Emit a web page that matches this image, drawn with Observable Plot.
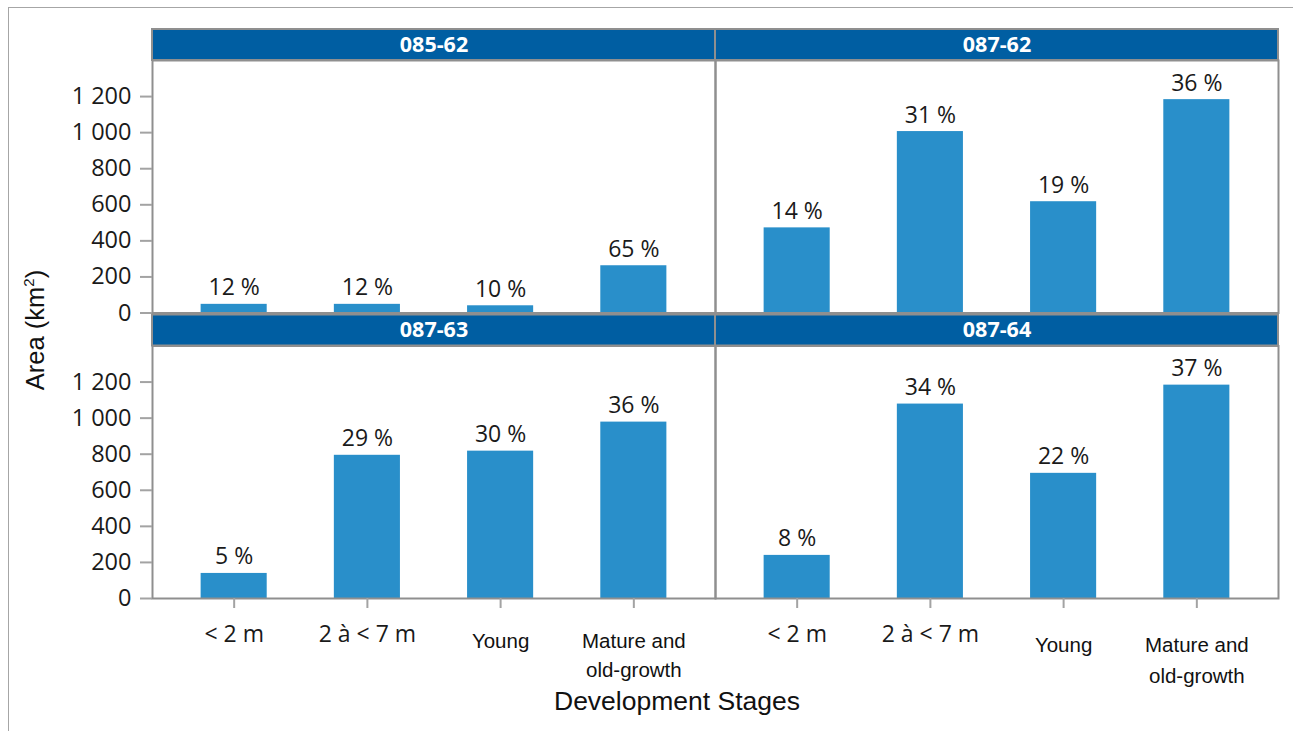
<!DOCTYPE html>
<html>
<head>
<meta charset="utf-8">
<script src="https://cdn.jsdelivr.net/npm/d3@7"></script>
<script src="https://cdn.jsdelivr.net/npm/@observablehq/plot@0.6"></script>
<style>
  html, body { margin: 0; padding: 0; background: #fff; }
  #wrap { position: relative; width: 1293px; height: 731px; overflow: hidden; }
  #border { position: absolute; left: 8px; top: 7px; right: 0; bottom: 0;
            border-top: 1.5px solid #a6a6a6; border-left: 1.5px solid #a6a6a6; pointer-events: none; }
  #chart { position: absolute; left: 0; top: 0; }
  .ttl { position: absolute; font-family: "Liberation Sans", Arial, sans-serif; color: #111; white-space: nowrap; }
  #ytitle { left: 35px; top: 330px; font-size: 25.5px; transform: translate(-50%, -50%) rotate(-90deg); }
  #ytitle sup { font-size: 15px; vertical-align: 0; position: relative; top: -10px; }
  #xtitle { left: 677px; top: 701px; font-size: 26.5px; transform: translate(-50%, -50%); }
</style>
</head>
<body>
<div id="wrap">
  <div id="chart"></div>
  <div id="border"></div>
  <div class="ttl" id="ytitle">Area (km<sup>2</sup>)</div>
  <div class="ttl" id="xtitle">Development Stages</div>
</div>
<script>
// ---- data ----
const panels = ["085-62", "087-62", "087-63", "087-64"];
const panelCol = ["left", "right", "left", "right"];
const panelRow = ["top", "top", "bottom", "bottom"];
const stages = ["< 2 m", "2 à < 7 m", "Young", "Mature and old-growth"];
const stageLabels = ["< 2 m", "2 à < 7 m", "Young", "Mature and\nold-growth"];
const area_085_62 = [48, 48, 40, 262];
const area_087_62 = [472, 1006, 617, 1183];
const area_087_63 = [139, 794, 817, 978];
const area_087_64 = [239, 1078, 694, 1183];
const pct_085_62 = [12, 12, 10, 65];
const pct_087_62 = [14, 31, 19, 36];
const pct_087_63 = [5, 29, 30, 36];
const pct_087_64 = [8, 34, 22, 37];
const yTicks = [0, 200, 400, 600, 800, 1000, 1200];
const yMax = 1400;

const areas = [area_085_62, area_087_62, area_087_63, area_087_64];
const pcts = [pct_085_62, pct_087_62, pct_087_63, pct_087_64];

const panelRows = panels.map((name, i) => ({name, col: panelCol[i], row: panelRow[i]}));
const data = [];
panels.forEach((name, i) => stages.forEach((s, j) => data.push({
  panel: name, col: panelCol[i], row: panelRow[i], stage: s, area: areas[i][j], pct: pcts[i][j]
})));

// x tick labels (bottom row only)
const xLabels = [];
["left", "right"].forEach(col => stages.forEach((s, j) => xLabels.push({col, row: "bottom", stage: s, label: stageLabels[j], j})));
const xlabOpen = xLabels.filter(d => d.j < 2);
const xlabArialL = xLabels.filter(d => d.j >= 2 && d.col === "left");
const xlabArialR = xLabels.filter(d => d.j >= 2 && d.col === "right");

// ---- layout ----
const W = 1293, H = 731;
const mTop = 60, mLeft = 152, mRight = 15, mBottom = 133;
const headerPx = 31, rowGap = 33;
const rowH = ((H - mTop - mBottom) - rowGap) / 2;
const hdrUnits = yMax * headerPx / rowH;

// thousands separated by a space: "1 200"
const fmt = d3.formatLocale({decimal: ".", thousands: " ", grouping: [3], currency: ["", ""]}).format(",");

const OPEN = "'Open Sans', 'Noto Sans', sans-serif";
const ARIAL = "'Liberation Sans', Arial, sans-serif";
const gray = "#8f8f8f";

const chart = Plot.plot({
  width: W, height: H,
  marginTop: mTop, marginLeft: mLeft, marginRight: mRight, marginBottom: mBottom,
  style: {fontFamily: OPEN, fontSize: "22px", color: "#1a1a1a", background: "transparent", overflow: "visible"},
  fx: {domain: ["left", "right"], paddingInner: 0, paddingOuter: 0, round: false, axis: null},
  fy: {domain: ["top", "bottom"], paddingInner: rowGap / (rowH + rowGap), paddingOuter: 0, round: false, axis: null},
  x: {domain: stages, paddingInner: 0.504, paddingOuter: 0.365, round: false, axis: null},
  y: {domain: [0, yMax], axis: null},
  marks: [
    Plot.barY(data, {x: "stage", y: "area", fx: "col", fy: "row", fill: "#298fca"}),
    Plot.frame({stroke: gray, strokeWidth: 2}),
    Plot.axisY({ticks: yTicks, tickFormat: fmt, tickSize: 12, tickPadding: 9, stroke: "#a3a3a3", strokeWidth: 2,
                fill: "#1a1a1a", fontSize: 23.5, label: null, facetAnchor: "left"}),
    Plot.axisX({tickSize: 10, tickFormat: () => "", stroke: "#a3a3a3", strokeWidth: 2, label: null, facetAnchor: "bottom"}),
    Plot.rect(panelRows, {fx: "col", fy: "row", y1: yMax, y2: yMax + hdrUnits, fill: "#005ea2", stroke: gray, strokeWidth: 2}),
    Plot.text(panelRows, {fx: "col", fy: "row", y: yMax + hdrUnits / 2, text: "name", fill: "white",
                          fontWeight: "bold", fontSize: 21.5, fontFamily: OPEN}),
    Plot.text(data, {x: "stage", y: "area", fx: "col", fy: "row", text: d => `${d.pct} %`,
                     lineAnchor: "bottom", dy: -9, fontSize: 23, fill: "#1a1a1a", fontFamily: OPEN}),
    Plot.text(xlabOpen, {x: "stage", fx: "col", fy: "row", text: "label", frameAnchor: "bottom",
                         lineAnchor: "top", dy: 27, fontSize: 23, fill: "#1a1a1a", fontFamily: OPEN}),
    Plot.text(xlabArialL, {x: "stage", fx: "col", fy: "row", text: "label", frameAnchor: "bottom",
                           lineAnchor: "top", dy: 29, lineHeight: 1.4, fontSize: 20.5, fill: "#111", fontFamily: ARIAL}),
    Plot.text(xlabArialR, {x: "stage", fx: "col", fy: "row", text: "label", frameAnchor: "bottom",
                           lineAnchor: "top", dy: 32, lineHeight: 1.5, fontSize: 20.5, fill: "#111", fontFamily: ARIAL})
  ]
});
document.getElementById("chart").appendChild(chart);
</script>
</body>
</html>
